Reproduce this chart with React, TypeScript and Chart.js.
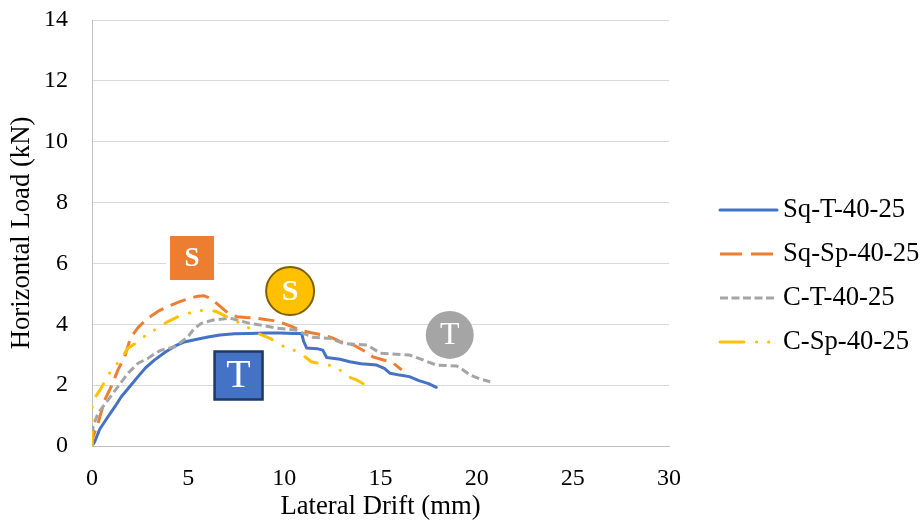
import React, { useEffect, useRef } from 'react';
import { Chart, registerables } from 'chart.js';

Chart.register(...registerables);

// Series names
const seriesNames = ['Sq-T-40-25', 'Sq-Sp-40-25', 'C-T-40-25', 'C-Sp-40-25'];

// Sq-T-40-25 : lateral drift (mm) / horizontal load (kN)
const sqTDrift = [0, 0.14, 0.4, 0.83, 1.2, 1.52, 2.0, 2.39, 2.8, 3.26, 3.8, 4.3, 4.8, 5.34, 6.03, 6.66, 7.4, 8.2, 9.0, 9.8, 10.5, 10.9, 11.0, 11.16, 11.7, 12.0, 12.2, 12.9, 13.4, 14.0, 14.8, 15.2, 15.5, 16.0, 16.5, 17.0, 17.5, 17.9];
const sqTLoad = [0, 0.14, 0.55, 0.96, 1.3, 1.62, 1.98, 2.28, 2.58, 2.83, 3.08, 3.28, 3.42, 3.49, 3.58, 3.65, 3.69, 3.70, 3.71, 3.71, 3.70, 3.70, 3.45, 3.22, 3.2, 3.15, 2.91, 2.85, 2.77, 2.70, 2.66, 2.55, 2.39, 2.33, 2.28, 2.15, 2.05, 1.93];

// Sq-Sp-40-25
const sqSpDrift = [0, 0.05, 0.31, 0.66, 1.0, 1.35, 1.7, 2.0, 2.4, 2.9, 3.5, 4.0, 4.5, 5.0, 5.5, 5.8, 6.2, 6.48, 7.0, 7.52, 8.0, 8.56, 9.0, 9.43, 9.95, 10.4, 10.8, 11.4, 12.0, 12.5, 12.9, 13.6, 14.3, 14.6, 15.2, 15.65, 16.1];
const sqSpLoad = [0, 0.3, 0.74, 1.51, 1.95, 2.5, 2.93, 3.55, 3.9, 4.2, 4.45, 4.6, 4.73, 4.84, 4.92, 4.94, 4.85, 4.69, 4.41, 4.25, 4.22, 4.2, 4.16, 4.12, 4.03, 3.92, 3.81, 3.72, 3.65, 3.55, 3.43, 3.32, 3.07, 2.93, 2.82, 2.73, 2.5];

// C-T-40-25
const cTDrift = [0, 0.05, 0.31, 0.83, 1.35, 1.87, 2.39, 2.91, 3.3, 3.6, 4.3, 4.99, 5.3, 5.68, 6.31, 7.18, 8.2, 9.0, 9.6, 10.6, 11.0, 11.5, 12.2, 12.38, 13.07, 14.3, 15.0, 16.5, 17.2, 17.9, 18.96, 19.3, 19.66, 20.2, 20.7];
const cTLoad = [0, 0.63, 1.07, 1.51, 1.95, 2.39, 2.72, 2.88, 3.05, 3.15, 3.26, 3.59, 3.85, 4.03, 4.14, 4.2, 4.03, 3.95, 3.87, 3.81, 3.7, 3.57, 3.54, 3.54, 3.37, 3.32, 3.05, 2.99, 2.83, 2.66, 2.63, 2.5, 2.33, 2.2, 2.11];

// C-Sp-40-25
const cSpDrift = [0, 0.0, 0.05, 0.3, 0.48, 0.83, 1.18, 1.52, 1.87, 2.39, 2.91, 3.43, 3.95, 4.47, 4.99, 5.68, 6.1, 6.5, 7.0, 7.5, 8.04, 8.4, 8.74, 9.26, 9.7, 10.2, 10.5, 10.9, 11.4, 12.0, 12.55, 13.0, 13.3, 13.76, 14.25];
const cSpLoad = [0, 1.2, 1.5, 1.73, 1.9, 2.33, 2.6, 2.88, 3.21, 3.43, 3.7, 3.87, 4.09, 4.25, 4.36, 4.45, 4.47, 4.41, 4.25, 4.1, 3.92, 3.8, 3.67, 3.54, 3.35, 3.21, 3.15, 3.02, 2.77, 2.69, 2.63, 2.45, 2.28, 2.17, 2.0];

// Axis ranges
const driftTicks = [0, 5, 10, 15, 20, 25, 30];
const loadTicks = [0, 2, 4, 6, 8, 10, 12, 14];

// Failure-mode tags placed in data space (drift, load)
const tagLetters = ['S', 'S', 'T', 'T'];
const tagDrift = [5.2, 10.3, 7.62, 18.6];
const tagLoad = [6.18, 5.09, 2.32, 3.65];

const SERIF = '"Liberation Serif", "Times New Roman", serif';

const lineColors = ['#4472C4', '#ED7D31', '#A5A5A5', '#FFC000'];
const lineDashes: number[][] = [[], [16, 8], [8, 4], [14, 12.5, 0.1, 12, 0.1, 12.5]];
const lineCaps: CanvasLineCap[] = ['round', 'butt', 'butt', 'round'];
const keyDashes: number[][] = [[], [22, 9], [8, 3.5], [24, 12.5, 0.1, 12, 0.1, 20]];

const toPoints = (xs: number[], ys: number[]) => xs.map((x, i) => ({ x, y: ys[i] }));

// Coloured tag shapes: square / circle with a letter
const tagStyles = [
  { shape: 'square', size: 44, fill: '#ED7D31', stroke: '', lw: 0, font: 'bold 27px', halo: 4 },
  { shape: 'circle', size: 48, fill: '#FFC000', stroke: '#7F6000', lw: 2, font: 'bold 30px', halo: 0 },
  { shape: 'square', size: 48, fill: '#4472C4', stroke: '#203864', lw: 2.5, font: '40px', halo: 0 },
  { shape: 'circle', size: 48, fill: '#A5A5A5', stroke: '', lw: 0, font: '32px', halo: 0 },
];

const tagPlugin = {
  id: 'failureTags',
  afterDatasetsDraw(chart: any) {
    const { ctx, scales } = chart;
    ctx.save();
    tagLetters.forEach((letter, i) => {
      const st = tagStyles[i];
      const cx = scales.x.getPixelForValue(tagDrift[i]);
      const cy = scales.y.getPixelForValue(tagLoad[i]);
      const h = st.size / 2;
      if (st.halo) {
        ctx.fillStyle = '#FFFFFF';
        ctx.fillRect(cx - h - st.halo, cy - h - st.halo, st.size + st.halo * 2, st.size + st.halo * 2);
      }
      ctx.beginPath();
      if (st.shape === 'square') {
        ctx.rect(cx - h, cy - h, st.size, st.size);
      } else {
        ctx.arc(cx, cy, h, 0, Math.PI * 2);
      }
      ctx.fillStyle = st.fill;
      ctx.fill();
      if (st.lw) {
        ctx.lineWidth = st.lw;
        ctx.strokeStyle = st.stroke;
        ctx.stroke();
      }
      ctx.fillStyle = '#FFFFFF';
      ctx.font = `${st.font} ${SERIF}`;
      ctx.textAlign = 'center';
      ctx.textBaseline = 'middle';
      ctx.fillText(letter, cx, cy + 1);
    });
    ctx.restore();
  },
};

// Series key drawn to the right of the plot
const keyPlugin = {
  id: 'seriesKey',
  afterDraw(chart: any) {
    const { ctx, chartArea } = chart;
    const x0 = chartArea.right + 51;
    const lineLen = 57;
    const rowGap = 44;
    const yStart = chartArea.top + 190;
    ctx.save();
    seriesNames.forEach((name, i) => {
      const y = yStart + i * rowGap;
      ctx.beginPath();
      ctx.setLineDash(keyDashes[i]);
      ctx.lineCap = lineCaps[i];
      ctx.lineWidth = 3;
      ctx.strokeStyle = lineColors[i];
      ctx.moveTo(x0, y);
      ctx.lineTo(x0 + lineLen, y);
      ctx.stroke();
      ctx.setLineDash([]);
      ctx.fillStyle = '#000000';
      ctx.font = `26.7px ${SERIF}`;
      ctx.textAlign = 'left';
      ctx.textBaseline = 'middle';
      ctx.fillText(name, x0 + lineLen + 6, y);
    });
    ctx.restore();
  },
};

export default function App() {
  const canvasRef = useRef<HTMLCanvasElement | null>(null);

  useEffect(() => {
    if (!canvasRef.current) return;
    const drifts = [sqTDrift, sqSpDrift, cTDrift, cSpDrift];
    const loads = [sqTLoad, sqSpLoad, cTLoad, cSpLoad];
    const chart = new Chart(canvasRef.current, {
      type: 'scatter',
      data: {
        datasets: seriesNames.map((name, i) => ({
          label: name,
          data: toPoints(drifts[i], loads[i]),
          showLine: true,
          borderColor: lineColors[i],
          backgroundColor: lineColors[i],
          borderWidth: 3,
          borderDash: lineDashes[i],
          borderCapStyle: lineCaps[i],
          borderJoinStyle: 'round',
          pointRadius: 0,
          pointHoverRadius: 0,
          tension: 0,
          order: 3 - i,
        })),
      },
      options: {
        animation: false,
        responsive: true,
        maintainAspectRatio: false,
        layout: { padding: { left: 0, right: 255, top: 20, bottom: 0 } },
        plugins: {
          legend: { display: false },
          tooltip: { enabled: false },
        },
        scales: {
          x: {
            type: 'linear',
            min: driftTicks[0],
            max: driftTicks[driftTicks.length - 1],
            afterBuildTicks: (scale: any) => {
              scale.ticks = driftTicks.map((v) => ({ value: v }));
            },
            afterFit: (scale: any) => {
              scale.height = 85;
            },
            ticks: {
              color: '#000000',
              font: { family: SERIF, size: 24 },
              padding: 18,
              maxRotation: 0,
            },
            grid: { display: false, drawTicks: false },
            border: { display: true, color: '#BFBFBF', width: 1 },
            title: {
              display: true,
              text: 'Lateral Drift (mm)',
              color: '#000000',
              font: { family: SERIF, size: 26.7 },
              padding: { top: 0, bottom: 8 },
            },
          },
          y: {
            type: 'linear',
            min: loadTicks[0],
            max: loadTicks[loadTicks.length - 1],
            afterBuildTicks: (scale: any) => {
              scale.ticks = loadTicks.map((v) => ({ value: v }));
            },
            afterFit: (scale: any) => {
              scale.width = 92;
              scale.paddingTop = 0;
              scale.paddingBottom = 0;
            },
            ticks: {
              color: '#000000',
              font: { family: SERIF, size: 24 },
              padding: 24,
            },
            grid: { color: '#D9D9D9', lineWidth: 1, drawTicks: false },
            border: { display: true, color: '#BFBFBF', width: 1 },
            title: {
              display: true,
              text: 'Horizontal Load (kN)',
              color: '#000000',
              font: { family: SERIF, size: 26.7 },
              padding: { top: 6, bottom: 0 },
            },
          },
        },
      },
      plugins: [tagPlugin, keyPlugin],
    } as any);
    return () => chart.destroy();
  }, []);

  return (
    <div style={{ position: 'absolute', left: 0, top: 0, width: 924, height: 531, background: '#FFFFFF' }}>
      <canvas ref={canvasRef} />
    </div>
  );
}
